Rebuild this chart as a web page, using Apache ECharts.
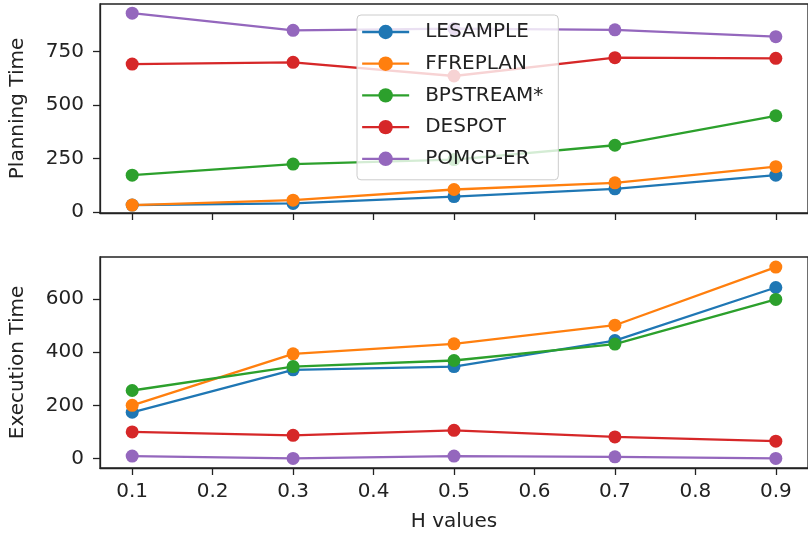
<!DOCTYPE html>
<html>
<head>
<meta charset="utf-8">
<script src="https://cdn.jsdelivr.net/npm/echarts@6/dist/echarts.min.js"></script>
<style>
html,body{margin:0;padding:0;background:#fff;}
#chart{width:808px;height:533px;}
</style>
</head>
<body>
<div id="chart"></div>
<script>
// ---- data ----
const hValues = [0.1, 0.3, 0.5, 0.7, 0.9];
const seriesNames = ['LESAMPLE', 'FFREPLAN', 'BPSTREAM*', 'DESPOT', 'POMCP-ER'];
const planLESAMPLE = [32, 40, 72, 108, 172];
const planFFREPLAN = [32, 55, 105, 136, 212];
const planBPSTREAM = [172, 224, 245, 312, 450];
const planDESPOT   = [692, 700, 636, 722, 719];
const planPOMCPER  = [930, 850, 858, 852, 820];
const execLESAMPLE = [174, 334, 346, 444, 644];
const execFFREPLAN = [200, 394, 432, 502, 721];
const execBPSTREAM = [256, 346, 369, 431, 599];
const execDESPOT   = [100, 87, 106, 81, 65];
const execPOMCPER  = [9, 0, 9, 6, 0];
const xTicks = [0.1, 0.2, 0.3, 0.4, 0.5, 0.6, 0.7, 0.8, 0.9];
const planTicks = [0, 250, 500, 750];
const execTicks = [0, 200, 400, 600];

// ---- styling ----
const colors = ['#1f77b4', '#ff7f0e', '#2ca02c', '#d62728', '#9467bd'];
const FONT = 'DejaVu Sans';
const AX = '#222222';
const planData = [planLESAMPLE, planFFREPLAN, planBPSTREAM, planDESPOT, planPOMCPER];
const execData = [execLESAMPLE, execFFREPLAN, execBPSTREAM, execDESPOT, execPOMCPER];

function pairs(ys){ return hValues.map((x,i)=>[x, ys[i]]); }

function xAxis(gridIndex, showLabels, name){
  return {
    type: 'value', gridIndex, min: 0.06, max: 0.94,
    name: name || '', nameLocation: 'middle', nameGap: 44,
    nameTextStyle: {fontFamily: FONT, fontSize: 20, color: AX},
    splitLine: {show: false},
    axisLine: {show: true, onZero: false, lineStyle: {color: AX, width: 1.3}},
    axisTick: {show: true, length: 7, customValues: xTicks, lineStyle: {color: AX, width: 1.3}},
    axisLabel: {show: showLabels, customValues: xTicks, margin: 14,
      fontFamily: FONT, fontSize: 20, color: AX,
      formatter: v => Number(v).toFixed(1)}
  };
}
function yAxis(gridIndex, min, max, ticks, name){
  return {
    type: 'value', gridIndex, min, max,
    name, nameLocation: 'middle', nameGap: 72, nameRotate: 90,
    nameTextStyle: {fontFamily: FONT, fontSize: 20, color: AX},
    splitLine: {show: false},
    axisLine: {show: true, onZero: false, lineStyle: {color: AX, width: 1.3}},
    axisTick: {show: true, length: 7, customValues: ticks, lineStyle: {color: AX, width: 1.3}},
    axisLabel: {customValues: ticks, margin: 16, fontFamily: FONT, fontSize: 20, color: AX}
  };
}

const series = [];
seriesNames.forEach((n,i)=>{
  [[planData[i],0],[execData[i],1]].forEach(([d,g])=>{
    series.push({
      name: n, type: 'line', xAxisIndex: g, yAxisIndex: g,
      data: pairs(d), symbol: 'circle', symbolSize: 13, showSymbol: true,
      color: colors[i],
      lineStyle: {width: 2.3, color: colors[i]},
      itemStyle: {color: colors[i]},
      emphasis: {disabled: true}, silent: true, animation: false
    });
  });
});

const chart = echarts.init(document.getElementById('chart'), null, {renderer: 'canvas'});
chart.setOption({
  backgroundColor: '#ffffff',
  animation: false,
  grid: [
    {left: 99, right: -7, top: 4, height: 209, show: true, borderColor: AX, borderWidth: 1.3, backgroundColor: 'transparent'},
    {left: 99, right: -7, top: 257, height: 211, show: true, borderColor: AX, borderWidth: 1.3, backgroundColor: 'transparent'}
  ],
  xAxis: [xAxis(0, false), xAxis(1, true, 'H values')],
  yAxis: [yAxis(0, -5, 973, planTicks, 'Planning Time'), yAxis(1, -36, 759, execTicks, 'Execution Time')],
  legend: {
    data: seriesNames, orient: 'vertical', left: 357, top: 15,
    itemWidth: 47, itemHeight: 18, itemGap: 11.7,
    padding: [7, 15, 11, 4],
    lineStyle: {width: 2.3},
    backgroundColor: 'rgba(255,255,255,0.8)', borderColor: '#cccccc', borderWidth: 1, borderRadius: 4,
    textStyle: {fontFamily: FONT, fontSize: 20, color: AX, lineHeight: 20, padding: [0, 0, 0, 11]},
    selectedMode: false
  },
  series
});
</script>
</body>
</html>
